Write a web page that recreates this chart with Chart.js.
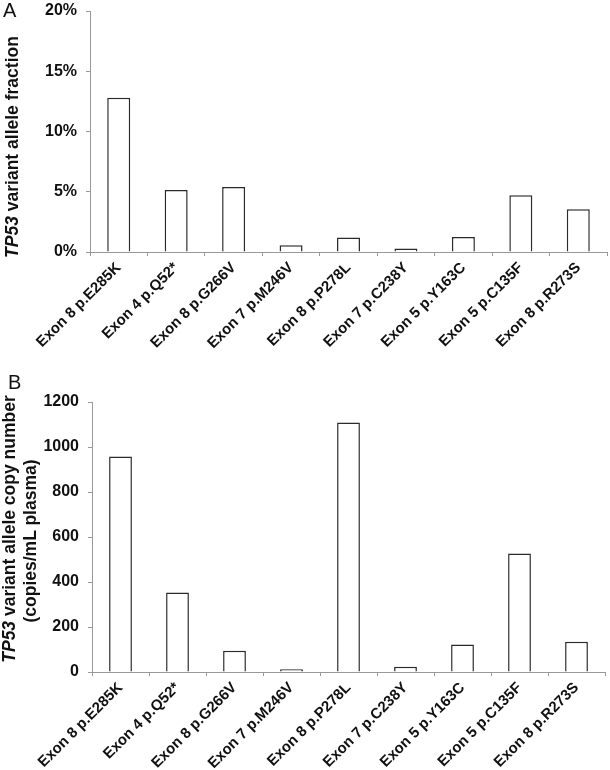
<!DOCTYPE html>
<html>
<head>
<meta charset="utf-8">
<script src="https://cdn.jsdelivr.net/npm/chart.js@4/dist/chart.umd.min.js"></script>
<style>
  body { margin: 0; background: #fff; font-family: "Liberation Sans", Arial, sans-serif; }
  #wrap { position: relative; width: 610px; height: 770px; overflow: hidden; }
  canvas { position: absolute; left: 0; }
  .panel { position: absolute; font-size: 20px; color: #111; }
  .ytitle { position: absolute; transform: translate(-50%, -50%) rotate(-90deg);
            white-space: nowrap; font-weight: bold; font-size: 17.5px; color: #111; line-height: 20px; }
</style>
</head>
<body>
<div id="wrap">
  <!-- canvas A is pulled up 8px so the plot top lands at y=11 despite the tick label padding -->
  <canvas id="chartA" width="610" height="378" style="top:-8px"></canvas>
  <canvas id="chartB" width="610" height="390" style="top:380px"></canvas>
  <div class="panel" style="left:3px; top:-1px">A</div>
  <div class="panel" style="left:8px; top:371px">B</div>
  <div class="ytitle" style="left:12px; top:147px"><i>TP53</i> variant allele fraction</div>
  <div class="ytitle" style="left:9px; top:529px"><i>TP53</i> variant allele copy number</div>
  <div class="ytitle" style="left:30px; top:541px">(copies/mL plasma)</div>
</div>
<script>
const mutations = ["Exon 8 p.E285K", "Exon 4 p.Q52*", "Exon 8 p.G266V", "Exon 7 p.M246V",
  "Exon 8 p.P278L", "Exon 7 p.C238Y", "Exon 5 p.Y163C", "Exon 5 p.C135F", "Exon 8 p.R273S"];
const alleleFraction = [12.8, 5.15, 5.4, 0.55, 1.2, 0.3, 1.25, 4.7, 3.55];
const copyNumber = [958, 353, 94, 12, 1109, 23, 122, 527, 135];

const fontFam = '"Liberation Sans", Arial, sans-serif';

function makeChart(id, values, yMax, yStep, fmt, pad, yWidth, xHeight) {
  const ctx = document.getElementById(id).getContext("2d");
  return new Chart(ctx, {
    type: 'bar',
    data: {
      labels: mutations,
      datasets: [{
        data: values,
        backgroundColor: '#ffffff',
        borderColor: '#2a2a2a',
        borderWidth: 1.5,
        barPercentage: 0.4,
        categoryPercentage: 1
      }]
    },
    options: {
      responsive: false,
      animation: false,
      layout: { padding: pad },
      plugins: { legend: { display: false }, tooltip: { enabled: false } },
      scales: {
        x: {
          grid: { display: true, drawOnChartArea: false, offset: true, color: '#999', tickLength: 4, lineWidth: 1 },
          border: { color: '#999', width: 1 },
          ticks: {
            color: '#111', minRotation: 45, maxRotation: 45, autoSkip: false, padding: 3,
            font: { family: fontFam, size: 15, weight: 'bold' }
          },
          afterFit: s => { s.height = xHeight; }
        },
        y: {
          min: 0, max: yMax,
          grid: { display: true, drawOnChartArea: false, color: '#999', tickLength: 4 },
          border: { color: '#999', width: 1 },
          ticks: {
            stepSize: yStep, color: '#111', padding: 9,
            font: { family: fontFam, size: 16, weight: 'bold' },
            callback: fmt
          },
          afterFit: s => { s.width = yWidth; }
        }
      }
    }
  });
}

makeChart("chartA", alleleFraction, 20, 5, v => v + '%',
  { top: 19, right: 3, left: 0, bottom: 0 }, 90, 118);
makeChart("chartB", copyNumber, 1200, 200, v => v,
  { top: 22, right: 5, left: 0, bottom: 0 }, 92, 98);
</script>
</body>
</html>
